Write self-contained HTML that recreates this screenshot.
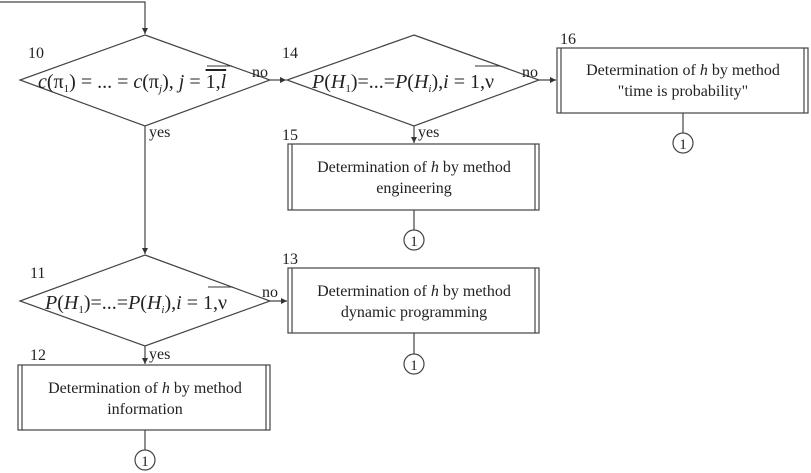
<!DOCTYPE html>
<html><head><meta charset="utf-8"><style>
body{margin:0;background:#fff}
svg{display:block}
text{font-family:"Liberation Serif",serif;fill:#222}
.t{font-size:16px}
.f{font-size:20px}
</style></head><body>
<svg width="811" height="473" viewBox="0 0 811 473" xmlns="http://www.w3.org/2000/svg">
<defs><marker id="a" markerWidth="6" markerHeight="6" refX="5" refY="3" orient="auto"><path d="M0,0.5 L5,3 L0,5.5 z" fill="#333"/></marker></defs>
<g stroke="#444" stroke-width="1.2" fill="none">
<polyline points="0,2 145,2 145,34" marker-end="url(#a)"/>
<polygon points="145,35 270,80 145,126 20,80"/>
<line x1="270" y1="80" x2="286" y2="80" marker-end="url(#a)"/>
<polygon points="414,35 539,80 414,126 287,80"/>
<line x1="539" y1="80" x2="556" y2="80" marker-end="url(#a)"/>
<line x1="414" y1="126" x2="414" y2="143" marker-end="url(#a)"/>
<line x1="145" y1="126" x2="145" y2="254" marker-end="url(#a)"/>
<polygon points="145,255 270,301 145,346 20,301"/>
<line x1="270" y1="301" x2="287" y2="301" marker-end="url(#a)"/>
<line x1="145" y1="346" x2="145" y2="364" marker-end="url(#a)"/>
<rect x="557" y="48" width="251" height="65"/><line x1="561" y1="48" x2="561" y2="113"/><line x1="804" y1="48" x2="804" y2="113"/>
<rect x="288" y="144" width="251" height="66"/><line x1="292" y1="144" x2="292" y2="210"/><line x1="535" y1="144" x2="535" y2="210"/>
<rect x="288" y="268" width="251" height="65"/><line x1="292" y1="268" x2="292" y2="333"/><line x1="535" y1="268" x2="535" y2="333"/>
<rect x="18" y="365" width="252" height="65"/><line x1="22" y1="365" x2="22" y2="430"/><line x1="266" y1="365" x2="266" y2="430"/>
<line x1="683" y1="113" x2="683" y2="133"/><circle cx="683" cy="143" r="10"/>
<line x1="414" y1="210" x2="414" y2="230"/><circle cx="414" cy="240" r="10"/>
<line x1="414" y1="333" x2="414" y2="354"/><circle cx="414" cy="364" r="10"/>
<line x1="145" y1="430" x2="145" y2="450"/><circle cx="145" cy="460" r="10"/>
</g>
<g class="t">
<text x="28" y="58">10</text><text x="282" y="58">14</text><text x="560" y="44">16</text>
<text x="282" y="140">15</text><text x="282" y="264">13</text><text x="30" y="278">11</text><text x="30" y="360">12</text>
<text x="252" y="77">no</text><text x="522" y="77">no</text><text x="262" y="297">no</text>
<text x="149" y="137">yes</text><text x="418" y="137">yes</text><text x="149" y="359">yes</text>
<g text-anchor="middle">
<text x="683" y="75">Determination of <tspan font-style="italic">h</tspan> by method</text>
<text x="683" y="96">"time is probability"</text>
<text x="414" y="172">Determination of <tspan font-style="italic">h</tspan> by method</text>
<text x="414" y="193">engineering</text>
<text x="414" y="296">Determination of <tspan font-style="italic">h</tspan> by method</text>
<text x="414" y="317">dynamic programming</text>
<text x="145" y="393">Determination of <tspan font-style="italic">h</tspan> by method</text>
<text x="145" y="414">information</text>
<text x="683" y="149" font-size="15">1</text>
<text x="414" y="246" font-size="15">1</text>
<text x="414" y="370" font-size="15">1</text>
<text x="145" y="466" font-size="15">1</text>
</g></g>
<g class="f">
<text x="38" y="88"><tspan font-style="italic">c</tspan>(π<tspan font-size="11" dy="4">1</tspan><tspan dy="-4">) = ... = </tspan><tspan font-style="italic">c</tspan>(π<tspan font-size="11" dy="4" font-style="italic">j</tspan><tspan dy="-4">), </tspan><tspan font-style="italic">j</tspan> = <tspan text-decoration="overline">1,<tspan font-style="italic">l</tspan></tspan></text>
<text x="312" y="88"><tspan font-style="italic">P</tspan>(<tspan font-style="italic">H</tspan><tspan font-size="11" dy="4">1</tspan><tspan dy="-4">)=...=</tspan><tspan font-style="italic">P</tspan>(<tspan font-style="italic">H</tspan><tspan font-size="11" dy="4" font-style="italic">i</tspan><tspan dy="-4">),</tspan><tspan font-style="italic">i</tspan> = 1,ν</text>
<text x="45" y="309"><tspan font-style="italic">P</tspan>(<tspan font-style="italic">H</tspan><tspan font-size="11" dy="4">1</tspan><tspan dy="-4">)=...=</tspan><tspan font-style="italic">P</tspan>(<tspan font-style="italic">H</tspan><tspan font-size="11" dy="4" font-style="italic">i</tspan><tspan dy="-4">),</tspan><tspan font-style="italic">i</tspan> = 1,ν</text>
</g>
<g stroke="#333" stroke-width="1">
<line x1="207" y1="66" x2="232" y2="66"/>
<line x1="475" y1="66" x2="500" y2="66"/>
<line x1="208" y1="287" x2="233" y2="287"/>
</g>
</svg>
</body></html>
